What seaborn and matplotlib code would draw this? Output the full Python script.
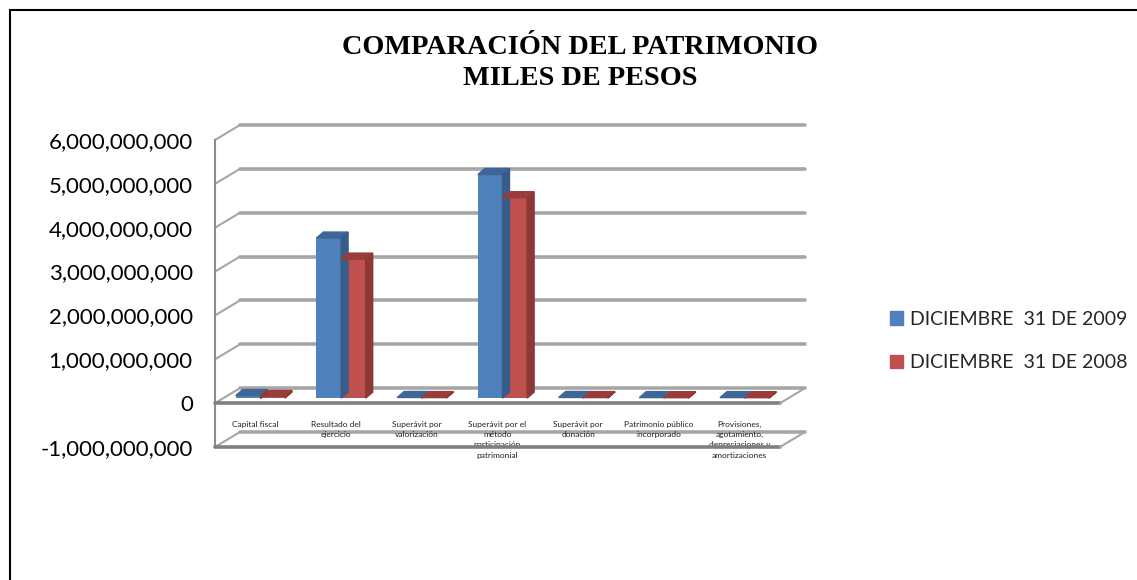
import numpy as np
import pandas as pd
import seaborn as sns
import matplotlib.pyplot as plt
from matplotlib.patches import Polygon, Rectangle
from matplotlib.lines import Line2D
from matplotlib.transforms import offset_copy
from matplotlib.ticker import FuncFormatter

# Datos (miles de pesos)
categorias = [
    "Capital fiscal",
    "Resultado del\nejercicio",
    "Superávit por\nvalorización",
    "Superávit por el\nmétodo\nparticipación\npatrimonial",
    "Superávit por\ndonación",
    "Patrimonio público\nincorporado",
    "Provisiones,\nagotamiento,\ndepreciaciones y\namortizaciones",
]
valores_2009 = [60e6, 3.65e9, 15e6, 5.10e9, 15e6, 12e6, 12e6]
valores_2008 = [40e6, 3.17e9, 12e6, 4.57e9, 12e6, 10e6, 10e6]
series = ["DICIEMBRE  31 DE 2009", "DICIEMBRE  31 DE 2008"]
yticks = [-1e9, 0, 1e9, 2e9, 3e9, 4e9, 5e9, 6e9]

df = pd.DataFrame({
    "categoria": categorias * 2,
    "valor": valores_2009 + valores_2008,
    "serie": [series[0]] * 7 + [series[1]] * 7,
})

W, H, dpi = 1137, 580, 100
sns.set_theme(style="white")
plt.rcParams['font.family'] = ['Lato', 'DejaVu Sans']

fig = plt.figure(figsize=(W / dpi, H / dpi), dpi=dpi)

# plano frontal del grafico "3D", en pixeles (origen arriba)
x0, x1, ytop, ybot = 215, 780, 140, 447
ax = fig.add_axes([x0 / W, (H - ybot) / H, (x1 - x0) / W, (ybot - ytop) / H])

colores = ["#4F81BD", "#C0504D"]
lados = ["#385D8A", "#8C3836"]
tapas = ["#3E6797", "#9A3D3A"]

sns.barplot(data=df, x="categoria", y="valor", hue="serie", palette=colores,
            width=0.61, saturation=1, ax=ax, legend=True)
ax.set_xlim(-0.5, 6.5)
ax.set_ylim(-1e9, 6e9)
ax.set_xlabel("")
ax.set_ylabel("")
ax.legend_.remove()

# profundidad (pixeles)
back_dx, back_dy = 25, 15
bar_dx, bar_dy = 5, 5
depth_x, depth_y = 7, 6

inv = fig.transFigure.inverted()


def fpt(x, y, dx=0, dy=0):
    d = ax.transData.transform((x, y))
    return inv.transform((d[0] + dx, d[1] + dy))


def linea(a, b, color, lw, z):
    fig.add_artist(Line2D([a[0], b[0]], [a[1], b[1]], color=color, lw=lw,
                          transform=fig.transFigure, zorder=z))


# pared de fondo + diagonales de la pared izquierda
for yv in yticks:
    a = fpt(-0.5, yv, back_dx, back_dy)
    b = fpt(6.5, yv, back_dx, back_dy)
    linea(a, b, "#a6a6a6", 2.6, 0)
    linea(fpt(-0.5, yv), a, "#a6a6a6", 1.5, 0)

# bordes frontales del piso en 0 y -1e9
for yv in [0, -1e9]:
    linea(fpt(-0.5, yv), fpt(6.5, yv), "#7f7f7f", 2.6, 1)
    linea(fpt(6.5, yv), fpt(6.5, yv, back_dx, back_dy), "#a6a6a6", 1.5, 1)

# barras desplazadas en profundidad + caras superior y lateral
shift = offset_copy(ax.transData, fig=fig, x=bar_dx, y=bar_dy, units='dots')
bars = [p for p in ax.patches if isinstance(p, Rectangle)]
for i, p in enumerate(bars):
    k = 0 if i < 7 else 1
    p.set_transform(shift)
    p.set_clip_on(False)
    p.set_edgecolor("none")
    bx, by, bw, bh = p.get_x(), p.get_y(), p.get_width(), p.get_height()
    top = by + bh
    tl = fpt(bx, top, bar_dx, bar_dy)
    tr = fpt(bx + bw, top, bar_dx, bar_dy)
    tr2 = fpt(bx + bw, top, bar_dx + depth_x, bar_dy + depth_y)
    tl2 = fpt(bx, top, bar_dx + depth_x, bar_dy + depth_y)
    br = fpt(bx + bw, by, bar_dx, bar_dy)
    br2 = fpt(bx + bw, by, bar_dx + depth_x, bar_dy + depth_y)
    fig.add_artist(Polygon([tl, tr, tr2, tl2], closed=True, color=tapas[k],
                           transform=fig.transFigure, zorder=3))
    fig.add_artist(Polygon([br, tr, tr2, br2], closed=True, color=lados[k],
                           transform=fig.transFigure, zorder=3))

# estilo de ejes
for s in ["top", "right", "bottom"]:
    ax.spines[s].set_visible(False)
ax.spines["left"].set_color("#8c8c8c")
ax.spines["left"].set_linewidth(1.5)
ax.patch.set_alpha(0)
ax.set_yticks(yticks)
ax.yaxis.set_major_formatter(FuncFormatter(lambda v, _: f"{v:,.0f}"))
ax.tick_params(axis="y", length=0, pad=16, labelsize=16, labelcolor="black")
ax.set_xticks(range(7))
ax.set_xticklabels(categorias, fontsize=6, linespacing=1.55)
ax.tick_params(axis="x", length=0, pad=-19, labelcolor="#222222")

# titulo
fig.text(580 / W, 1 - 35 / H, "COMPARACIÓN DEL PATRIMONIO\nMILES DE PESOS",
         ha="center", va="top", fontsize=20.3, fontweight="bold",
         family="Liberation Serif", linespacing=1.32, color="black")

# leyenda
handles = [Rectangle((0, 0), 1, 1, color=c) for c in colores]
fig.legend(handles, series, loc="center left",
           bbox_to_anchor=(882 / W, 1 - 341 / H), frameon=False,
           borderaxespad=0, fontsize=14, handlelength=0.7, handleheight=0.7,
           handletextpad=0.35, labelspacing=1.35)

# borde exterior
fig.add_artist(Rectangle((10 / W, -0.1), 1.2, 1 - 10 / H + 0.1, fill=False,
                         edgecolor="black", lw=1.5, transform=fig.transFigure))

fig.savefig("out.png", dpi=dpi)
